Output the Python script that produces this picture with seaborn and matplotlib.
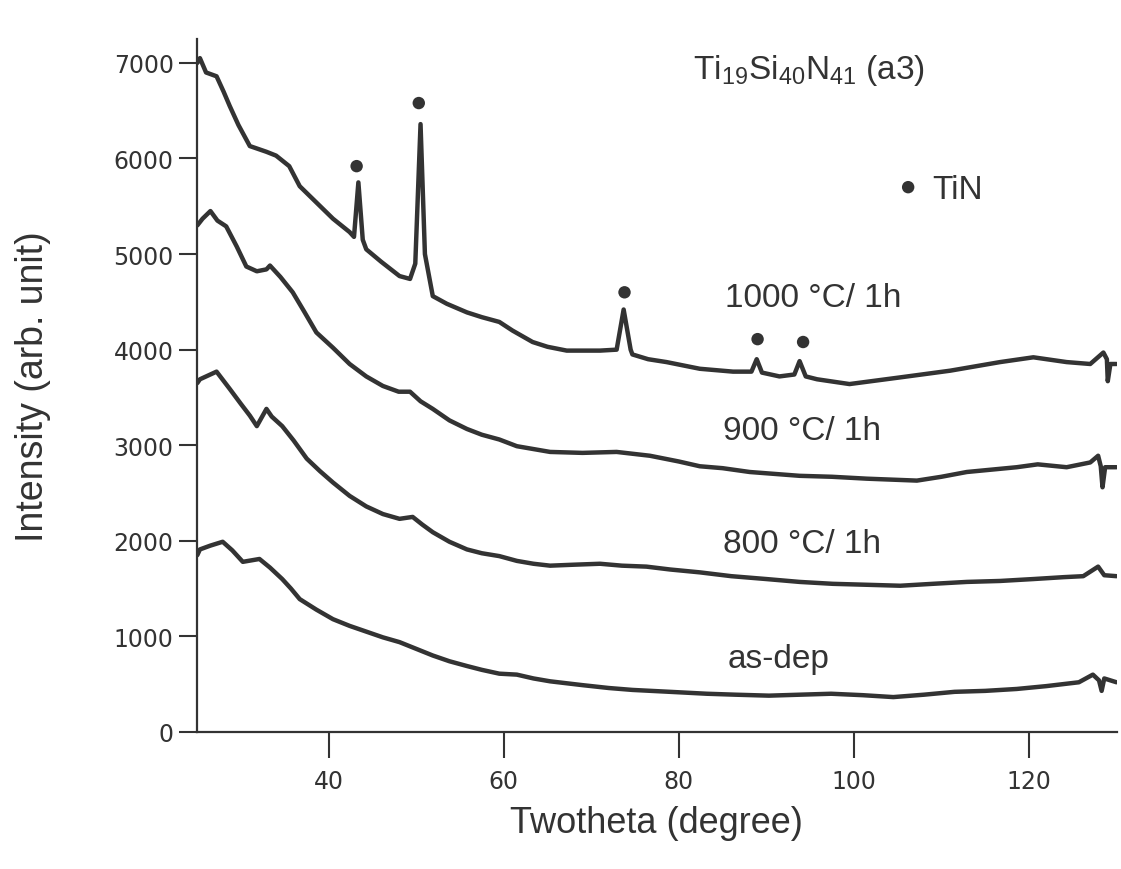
import seaborn as sns
import pandas as pd
import matplotlib.pyplot as plt

# values (2theta in degrees, intensity in arb. units)
x_1000 = [25.0, 25.3, 26.0, 27.2, 28.0, 28.7, 29.7, 31.0, 32.9, 34.0, 35.5, 36.7, 38.6, 40.5,
          42.4, 42.9, 43.4, 43.9, 44.3, 46.0, 48.1, 49.3, 49.9, 50.5, 51.0, 51.9, 53.5, 55.8,
          57.5, 59.5, 61.0, 63.3, 65.0, 67.2, 71.0, 72.9, 73.7, 74.5, 74.7, 76.5, 78.6, 82.4,
          86.2, 88.3, 88.9, 89.5, 91.5, 93.2, 93.8, 94.5, 95.8, 99.5, 105.3, 111.0, 116.7,
          120.5, 124.3, 127.0, 128.5, 128.9, 129.0, 129.3, 130.0]
y_1000 = [7000, 7050, 6900, 6860, 6700, 6550, 6350, 6130, 6070, 6030, 5920, 5710, 5540, 5370,
          5230, 5180, 5750, 5150, 5050, 4920, 4770, 4740, 4900, 6360, 5000, 4560, 4480, 4390,
          4340, 4290, 4200, 4080, 4030, 3990, 3990, 4000, 4420, 4000, 3950, 3900, 3870, 3800,
          3770, 3770, 3900, 3760, 3720, 3740, 3880, 3720, 3690, 3640, 3710, 3780, 3870,
          3920, 3870, 3850, 3970, 3900, 3670, 3850, 3850]

x_900 = [25.0, 25.6, 26.5, 27.3, 28.3, 29.5, 30.6, 31.8, 32.9, 33.3, 34.5, 35.9, 37.2, 38.6,
         40.5, 42.4, 44.3, 46.2, 48.0, 49.3, 50.5, 51.9, 53.8, 55.8, 57.5, 59.5, 61.5, 63.4,
         65.3, 69.0, 72.9, 76.7, 80.0, 82.4, 85.0, 88.1, 93.8, 97.5, 101.5, 107.2, 110.0,
         112.9, 118.6, 121.0, 124.3, 127.0, 127.9, 128.2, 128.4, 128.7, 130.0]
y_900 = [5300, 5370, 5450, 5350, 5290, 5080, 4870, 4820, 4840, 4880, 4760, 4600, 4400, 4180,
         4020, 3850, 3720, 3620, 3560, 3560, 3460, 3380, 3260, 3170, 3110, 3060, 2990, 2960,
         2930, 2920, 2930, 2890, 2830, 2780, 2760, 2720, 2680, 2670, 2650, 2630, 2670,
         2720, 2770, 2800, 2770, 2820, 2890, 2780, 2560, 2770, 2770]

x_800 = [25.0, 25.3, 27.2, 28.7, 30.0, 31.0, 31.8, 32.9, 33.5, 34.7, 36.0, 37.5, 39.0, 40.5,
         42.4, 44.3, 46.2, 48.1, 49.6, 50.7, 51.9, 53.8, 55.8, 57.5, 59.5, 61.5, 63.4, 65.3,
         68.0, 71.0, 73.5, 76.3, 79.0, 82.4, 86.0, 90.0, 93.8, 97.6, 101.5, 105.3, 109.0,
         112.9, 116.7, 120.5, 124.0, 126.2, 127.9, 128.6, 130.0]
y_800 = [3650, 3690, 3770, 3590, 3430, 3310, 3200, 3380, 3300, 3200, 3050, 2860, 2730, 2610,
         2470, 2360, 2280, 2230, 2250, 2170, 2090, 1990, 1910, 1870, 1840, 1790, 1760, 1740,
         1750, 1760, 1740, 1730, 1700, 1670, 1630, 1600, 1570, 1550, 1540, 1530, 1550,
         1570, 1580, 1600, 1620, 1630, 1730, 1640, 1630]

x_asdep = [25.0, 25.3, 26.5, 27.9, 29.0, 30.2, 32.1, 33.3, 34.7, 35.7, 36.7, 38.6, 40.5, 42.4,
           44.3, 46.2, 48.1, 50.0, 51.9, 53.8, 55.8, 57.5, 59.5, 61.5, 63.4, 65.3, 69.0, 72.0,
           74.7, 79.0, 83.2, 86.5, 90.3, 93.8, 97.4, 101.0, 104.5, 108.0, 111.5, 115.0, 118.6,
           122.0, 125.7, 127.3, 128.0, 128.3, 128.6, 130.0]
y_asdep = [1850, 1910, 1950, 1990, 1900, 1780, 1810, 1720, 1600, 1500, 1390, 1280, 1180, 1110,
           1050, 990, 940, 870, 800, 740, 690, 650, 610, 600, 560, 530, 490, 460,
           440, 420, 400, 390, 380, 390, 400, 385, 365, 390, 420, 430, 450,
           480, 520, 600, 540, 430, 560, 520]

# TiN reflections marked with dots
tin_x = [43.2, 50.3, 73.8, 89.0, 94.2]
tin_y = [5920, 6580, 4600, 4110, 4080]

ink = "#333333"

sns.set_theme(style="ticks")
plt.rcParams['font.family'] = ['Liberation Sans', 'DejaVu Sans']
plt.rcParams['mathtext.fontset'] = 'custom'
plt.rcParams['mathtext.rm'] = 'Liberation Sans'

fig = plt.figure(figsize=(11.21, 8.70), dpi=100)
ax = fig.add_axes([0.176, 0.1575, 0.82, 0.7965])

for xs, ys in [(x_1000, y_1000), (x_900, y_900), (x_800, y_800), (x_asdep, y_asdep)]:
    df = pd.DataFrame({'twotheta': xs, 'intensity': ys})
    sns.lineplot(data=df, x='twotheta', y='intensity', ax=ax, color=ink, lw=3.2,
                 sort=False, estimator=None)

sns.scatterplot(x=tin_x, y=tin_y, ax=ax, color=ink, s=80, edgecolor='none')
sns.scatterplot(x=[106.2], y=[5700], ax=ax, color=ink, s=80, edgecolor='none')

ax.set_xlim(25, 130)
ax.set_ylim(0, 7250)
ax.set_xticks([40, 60, 80, 100, 120])
ax.set_yticks(range(0, 7001, 1000))
ax.tick_params(axis='x', length=19, width=1.5, pad=8, labelsize=17, colors=ink)
ax.tick_params(axis='y', length=13, width=1.5, pad=4, labelsize=17, colors=ink)
for lab in ax.get_xticklabels() + ax.get_yticklabels():
    lab.set_fontfamily('DejaVu Sans')
    lab.set_fontsize(17)
sns.despine(ax=ax)
for s in ['left', 'bottom']:
    ax.spines[s].set_linewidth(1.6)
    ax.spines[s].set_color(ink)

ax.set_xlabel('Twotheta (degree)', fontsize=26, color=ink)
ax.set_ylabel('Intensity (arb. unit)', fontsize=27, color=ink)
ax.yaxis.set_label_coords(-0.159, 0.5)
ax.xaxis.set_label_coords(0.5, -0.105)

txt = dict(fontsize=24, color=ink, va='center', ha='left')
ax.text(81.6, 6930, r'Ti$_{19}$Si$_{40}$N$_{41}$ (a3)', **txt)
ax.text(109.0, 5680, 'TiN', **txt)
ax.text(85.3, 4550, '1000 °C/ 1h', **txt)
ax.text(85.0, 3150, '900 °C/ 1h', **txt)
ax.text(85.0, 1970, '800 °C/ 1h', **txt)
ax.text(85.6, 765, 'as-dep', **txt)

fig.savefig('out.png', dpi=100)
